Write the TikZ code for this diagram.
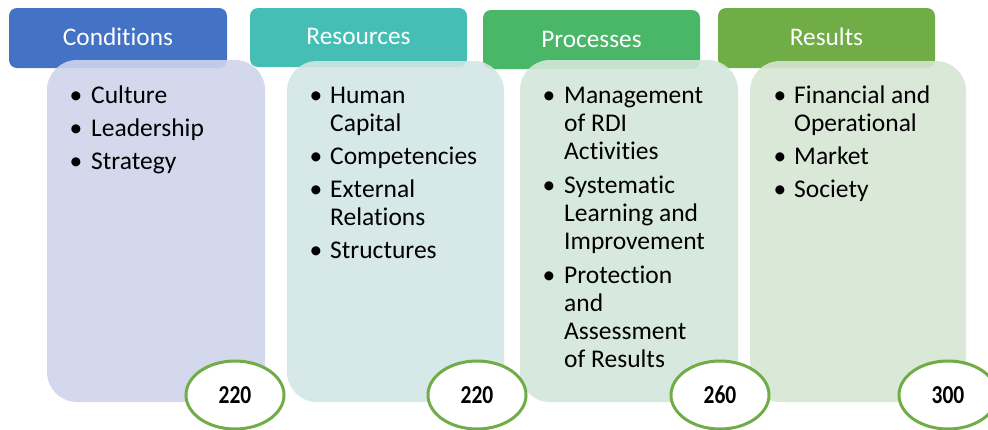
\documentclass[tikz,border=0pt]{standalone}
\usepackage{fontspec}
\setmainfont{Carlito}[Ligatures=NoCommon]
\usetikzlibrary{shapes.geometric}

\definecolor{headA}{HTML}{4472C4}
\definecolor{headB}{HTML}{45BFB6}
\definecolor{headC}{HTML}{4AB667}
\definecolor{headD}{HTML}{70AD47}
\definecolor{bodyA}{HTML}{CFD4EA}
\definecolor{bodyB}{HTML}{D1E5E4}
\definecolor{bodyC}{HTML}{D3E7DA}
\definecolor{bodyD}{HTML}{D6E5D3}
\definecolor{ringgreen}{HTML}{70AD47}

\newcommand{\scoretext}[1]{\scalebox{1}[1.2]{#1}}

\tikzset{
  headbox/.style={rounded corners=8pt, draw=none},
  bodybox/.style={rounded corners=30pt, draw=none, fill opacity=0.9},
  headtext/.style={text=white, font=\fontsize{25.3}{28}\selectfont, inner sep=0pt, anchor=base},
  % multi-line items are placed by the baseline of their last line
  itemtext/.style={font=\fontsize{25.5}{28}\selectfont, align=left, inner sep=0pt, anchor=base west},
  bulletmark/.style={font=\fontsize{25.5}{28}\selectfont, inner sep=0pt, anchor=base},
  scorering/.style={ellipse, draw=ringgreen, line width=3pt, fill=white,
    minimum width=98pt, minimum height=68pt, inner sep=0pt,
    font=\bfseries\fontsize{21.5}{24}\selectfont},
}

\begin{document}
\begin{tikzpicture}[x=1pt, y=-1pt]
\useasboundingbox (0,0) rectangle (988,429);

% header tabs
\fill[headbox, headA] (9,8) rectangle (227,68);
\fill[headbox, headB] (250,8) rectangle (467,67);
\fill[headbox, headC] (483,10) rectangle (700,69);
\fill[headbox, headD] (718,8) rectangle (935,68);

% content panels
\fill[bodybox, bodyA] (47,60) rectangle (265,402);
\fill[bodybox, bodyB] (287,61) rectangle (504,402);
\fill[bodybox, bodyC] (520,60) rectangle (738,402);
\fill[bodybox, bodyD] (750,61) rectangle (966,402);

% header labels
\node[headtext] (tCond) at (118,45) {Conditions};
\node[headtext] (tRes)  at (358.5,44) {Resources};
\node[headtext] (tProc) at (591.5,47) {Processes};
\node[headtext] (tRslt) at (826.5,45) {Results};

% Conditions
\node[bulletmark] (bA1) at (76,103) {•};
\node[itemtext] (iA1) at (91,103) {Culture};
\node[bulletmark] (bA2) at (76,136) {•};
\node[itemtext] (iA2) at (91,136) {Leadership};
\node[bulletmark] (bA3) at (76,169) {•};
\node[itemtext] (iA3) at (91,169) {Strategy};

% Resources
\node[bulletmark] (bB1) at (316,103) {•};
\node[itemtext] (iB1) at (330,131) {Human\\Capital};
\node[bulletmark] (bB2) at (316,164) {•};
\node[itemtext] (iB2) at (330,164) {Competencies};
\node[bulletmark] (bB3) at (316,197) {•};
\node[itemtext] (iB3) at (330,225) {External\\Relations};
\node[bulletmark] (bB4) at (316,258) {•};
\node[itemtext] (iB4) at (330,258) {Structures};

% Processes
\node[bulletmark] (bC1) at (549,103) {•};
\node[itemtext] (iC1) at (564,159) {Management\\of RDI\\Activities};
\node[bulletmark] (bC2) at (549,193) {•};
\node[itemtext] (iC2) at (564,249) {Systematic\\Learning and\\Improvement};
\node[bulletmark] (bC3) at (549,283) {•};
\node[itemtext] (iC3) at (564,367) {Protection\\and\\Assessment\\of Results};

% Results
\node[bulletmark] (bD1) at (780,103) {•};
\node[itemtext] (iD1) at (794,131) {Financial and\\Operational};
\node[bulletmark] (bD2) at (780,164) {•};
\node[itemtext] (iD2) at (794,164) {Market};
\node[bulletmark] (bD3) at (780,197) {•};
\node[itemtext] (iD3) at (794,197) {Society};

% scores
\node[scorering] (sA) at (235,395) {\scoretext{220}};
\node[scorering] (sB) at (477,395) {\scoretext{220}};
\node[scorering] (sC) at (720,395) {\scoretext{260}};
\node[scorering] (sD) at (948,395) {\scoretext{300}};
\end{tikzpicture}
\end{document}
